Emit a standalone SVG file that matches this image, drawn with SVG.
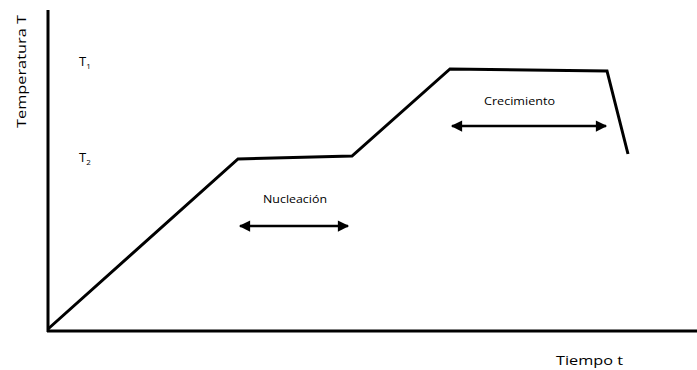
<svg xmlns="http://www.w3.org/2000/svg" width="697" height="370" viewBox="0 0 697 370">
<style>
.ax{stroke:#000;stroke-width:3;fill:none}
.cv{stroke:#000;stroke-width:3;fill:none;stroke-linejoin:miter}
.ar{stroke:#000;stroke-width:2.5;fill:none}
text{font-family:"Open Sans","Liberation Sans",sans-serif;fill:#000}
.sm{font-size:10px;font-weight:400}
.md{font-size:13px;font-weight:400}
</style>
<defs>
<marker id="ah" viewBox="0 0 10 10" refX="9" refY="5" markerWidth="5" markerHeight="4.5" orient="auto-start-reverse" markerUnits="strokeWidth">
<path d="M0,0 L10,5 L0,10 z" fill="#000"/>
</marker>
</defs>
<g id="axes">
<line class="ax" x1="48" y1="10" x2="48" y2="332"/>
<line class="ax" x1="47" y1="331" x2="697" y2="331"/>
</g>
<g id="curve">
<polyline class="cv" points="48,329 238,159 352,156 450,69 607,71 628,154"/>
</g>
<g id="connectors">
<line class="ar" x1="240" y1="226" x2="348" y2="226" marker-start="url(#ah)" marker-end="url(#ah)"/>
<line class="ar" x1="452" y1="126" x2="606" y2="126" marker-start="url(#ah)" marker-end="url(#ah)"/>
</g>
<g id="labels">
<text class="md" transform="translate(26,128) rotate(-90)" textLength="113" lengthAdjust="spacingAndGlyphs">Temperatura T</text>
<text class="md" x="79" y="66">T<tspan font-size="8" dy="3">1</tspan></text>
<text class="md" x="79" y="162">T<tspan font-size="8" dy="3">2</tspan></text>
<text class="sm" x="263" y="203" textLength="64" lengthAdjust="spacingAndGlyphs">Nucleación</text>
<text class="sm" x="484" y="105" textLength="71" lengthAdjust="spacingAndGlyphs">Crecimiento</text>
<text class="md" x="556" y="365" textLength="67" lengthAdjust="spacingAndGlyphs">Tiempo t</text>
</g>
</svg>
